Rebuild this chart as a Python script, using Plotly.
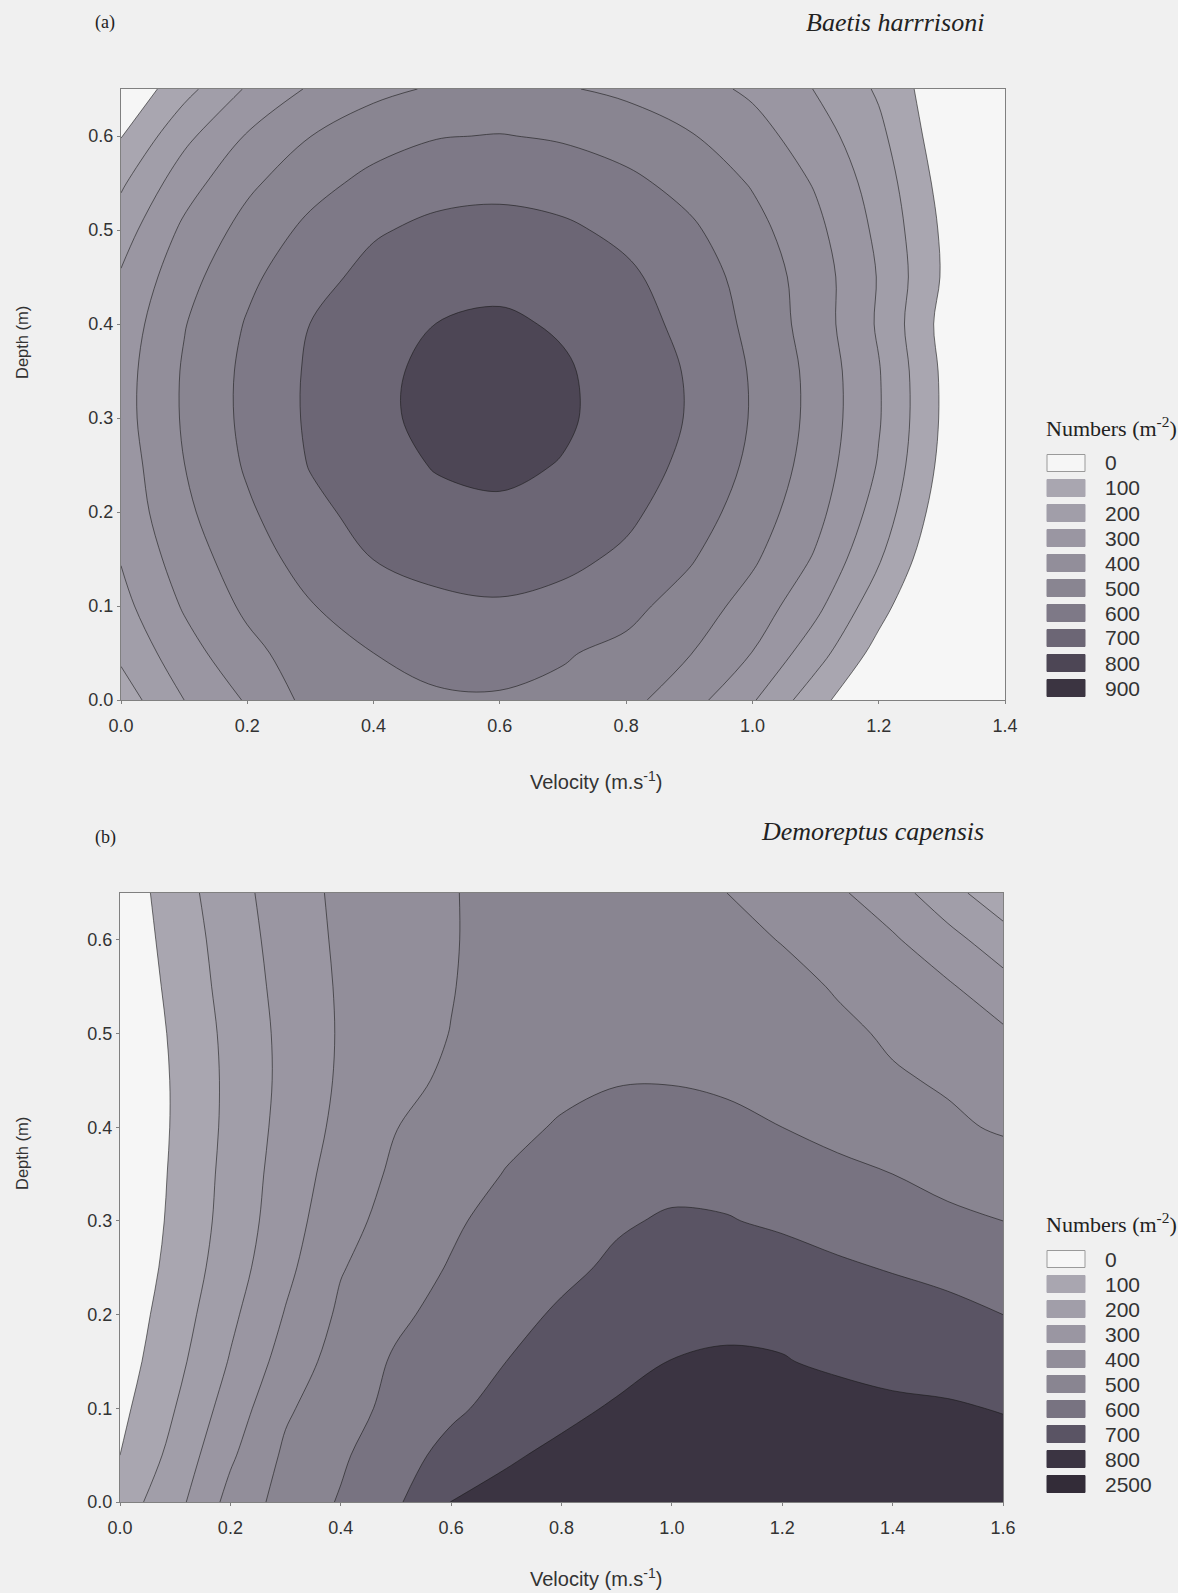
import plotly.graph_objects as go

# ---------------- data ----------------
velocity_a = [0.0, 0.1, 0.2, 0.3, 0.4, 0.5, 0.6, 0.7, 0.8, 0.9, 1.0, 1.1, 1.2, 1.3, 1.4]
depth_a = [0.0, 0.05, 0.10, 0.15, 0.20, 0.25, 0.30, 0.35, 0.40, 0.45, 0.50, 0.55, 0.60, 0.65]
numbers_a = [
    [50, 200, 310, 430, 475, 492, 494, 478, 430, 340, 210, 40, -121, -284, -455],
    [120, 260, 370, 455, 500, 520, 523, 508, 476, 405, 298, 143, -38, -210, -388],
    [170, 310, 420, 495, 550, 580, 591, 571, 528, 458, 359, 226, 40, -146, -330],
    [205, 350, 455, 538, 601, 630, 638, 623, 583, 510, 415, 289, 110, -92, -283],
    [235, 380, 485, 576, 634, 671, 682, 662, 620, 550, 453, 331, 159, -52, -247],
    [248, 399, 512, 605, 660, 707, 723, 695, 644, 579, 480, 357, 193, -24, -223],
    [262, 411, 524, 614, 674, 731, 763, 715, 656, 594, 493, 370, 208, -11, -211],
    [260, 410, 523, 613, 673, 727, 755, 712, 655, 592, 491, 369, 206, -13, -212],
    [243, 395, 508, 601, 656, 701, 716, 689, 640, 574, 476, 353, 188, -28, -226],
    [210, 364, 478, 568, 628, 663, 673, 655, 618, 552, 462, 350, 194, -6, -205],
    [156, 320, 435, 524, 590, 622, 629, 616, 578, 517, 434, 326, 178, -12, -207],
    [85, 257, 380, 466, 529, 566, 576, 559, 523, 468, 392, 291, 156, -31, -213],
    [-4, 174, 308, 399, 458, 495, 504, 489, 457, 408, 339, 247, 124, -54, -224],
    [-91, 67, 211, 312, 375, 411, 420, 408, 380, 338, 283, 196, 87, -68, -227],
]

velocity_b = [0.0, 0.1, 0.2, 0.3, 0.4, 0.5, 0.6, 0.7, 0.8, 0.9, 1.0, 1.1, 1.2, 1.3, 1.4, 1.5, 1.6]
depth_b = [0.0, 0.05, 0.10, 0.15, 0.20, 0.25, 0.30, 0.35, 0.40, 0.45, 0.50, 0.55, 0.60, 0.65]
numbers_b = [
    [50, 167, 331, 438, 508, 585, 702, 730, 750, 765, 775, 780, 780, 775, 765, 755, 748],
    [0, 131, 285, 417, 486, 562, 629, 688, 720, 737, 750, 757, 757, 752, 745, 740, 735],
    [-25, 100, 243, 386, 462, 526, 583, 632, 677, 710, 725, 732, 730, 722, 715, 710, 695],
    [-47, 71, 207, 340, 443, 511, 555, 600, 638, 670, 702, 708, 703, 690, 675, 662, 648],
    [-61, 50, 179, 306, 417, 483, 530, 572, 612, 645, 670, 685, 685, 670, 650, 625, 600],
    [-78, 33, 153, 276, 394, 454, 507, 550, 580, 615, 645, 650, 640, 615, 593, 575, 560],
    [-89, 22, 138, 256, 367, 435, 485, 535, 570, 590, 610, 605, 585, 560, 540, 520, 500],
    [-100, 17, 131, 245, 343, 417, 461, 504, 540, 565, 575, 570, 550, 525, 500, 472, 442],
    [-100, 11, 124, 233, 324, 398, 440, 478, 508, 525, 525, 515, 500, 470, 440, 415, 390],
    [-100, 11, 122, 225, 313, 375, 415, 455, 480, 496, 497, 490, 465, 435, 410, 390, 352],
    [-94, 17, 126, 226, 309, 362, 402, 448, 480, 495, 495, 475, 450, 420, 387, 350, 315],
    [-83, 28, 137, 233, 311, 358, 396, 440, 475, 490, 485, 465, 430, 392, 352, 312, 240],
    [-72, 39, 147, 242, 316, 355, 393, 438, 475, 482, 465, 430, 396, 354, 312, 236, 140],
    [-65, 53, 160, 250, 321, 360, 393, 440, 475, 475, 450, 400, 358, 315, 244, 134, 40],
]

legend_labels_a = ["0", "100", "200", "300", "400", "500", "600", "700", "800", "900"]
legend_labels_b = ["0", "100", "200", "300", "400", "500", "600", "700", "800", "2500"]
colors_a = ["#f6f6f6", "#a9a6b0", "#a19ea9", "#9a96a2", "#928e9a", "#898591", "#7e7987",
            "#6c6675", "#4d4655", "#3b3441"]
colors_b = ["#f6f6f6", "#a9a6b0", "#a19ea9", "#9a96a2", "#928e9a", "#898591", "#787381",
            "#5a5464", "#3b3442", "#332c38"]

W, H = 1178, 1593
BG = "#f0f0f0"


def px(x):
    return x / W


def py(y):
    return 1 - y / H


def scale(colors):
    n = len(colors) - 1
    return [[i / n, c] for i, c in enumerate(colors)]


fig = go.Figure()
for vel, dep, z, cols, xa, ya in [
    (velocity_a, depth_a, numbers_a, colors_a, "x", "y"),
    (velocity_b, depth_b, numbers_b, colors_b, "x2", "y2"),
]:
    fig.add_trace(go.Contour(
        x=vel, y=dep, z=z, xaxis=xa, yaxis=ya,
        autocontour=False,
        contours=dict(start=0, end=800, size=100, coloring="fill", showlines=True),
        colorscale=scale(cols), showscale=False,
        line=dict(color="rgba(25,25,25,0.85)", width=0.7, smoothing=1.0),
        hoverinfo="skip",
    ))

sans = "Liberation Sans, Arial"
serif = "Liberation Serif, Times New Roman"
tickfont = dict(family=sans, size=18, color="#333")
titlefont = dict(family=sans, size=20, color="#333")
axis_common = dict(showgrid=False, zeroline=False, showline=True, linecolor="#808080",
                   linewidth=1, mirror=True, ticks="outside", ticklen=3, tickcolor="#808080",
                   tickfont=tickfont, tickformat=".1f", automargin=False)

fig.update_layout(
    template="none",
    width=W, height=H, autosize=False,
    margin=dict(l=0, r=0, t=0, b=0, pad=0),
    paper_bgcolor=BG, plot_bgcolor=BG,
    showlegend=False,
    xaxis=dict(domain=[px(121), px(1005)], range=[0, 1.4], dtick=0.2, anchor="y",
               ticklabelstandoff=6, **axis_common),
    yaxis=dict(domain=[py(700), py(89)], range=[0, 0.65], dtick=0.1, anchor="x",
               **axis_common),
    xaxis2=dict(domain=[px(120), px(1003)], range=[0, 1.6], dtick=0.2, anchor="y2",
                ticklabelstandoff=6, **axis_common),
    yaxis2=dict(domain=[py(1502), py(893)], range=[0, 0.65], dtick=0.1, anchor="x2",
                **axis_common),
)

annots = [
    dict(text="(a)", x=px(93), y=py(22), xanchor="left", yanchor="middle",
         font=dict(family=serif, size=18, color="#222")),
    dict(text="<i>Baetis harrrisoni</i>", x=px(986), y=py(22), xanchor="right", yanchor="middle",
         font=dict(family=serif, size=26, color="#222")),
    dict(text="(b)", x=px(93), y=py(837), xanchor="left", yanchor="middle",
         font=dict(family=serif, size=18, color="#222")),
    dict(text="<i>Demoreptus capensis</i>", x=px(986), y=py(831), xanchor="right", yanchor="middle",
         font=dict(family=serif, size=26, color="#222")),
    dict(text="Velocity (m.s<sup>-1</sup>)", x=px(596), y=py(780), xanchor="center", yanchor="middle",
         font=titlefont),
    dict(text="Velocity (m.s<sup>-1</sup>)", x=px(596), y=py(1577), xanchor="center", yanchor="middle",
         font=titlefont),
    dict(text="Depth (m)", x=px(22), y=py(343), xanchor="center", yanchor="middle",
         textangle=-90, font=dict(family=sans, size=16.5, color="#333")),
    dict(text="Depth (m)", x=px(22), y=py(1154), xanchor="center", yanchor="middle",
         textangle=-90, font=dict(family=sans, size=16.5, color="#333")),
]
shapes = []
for labels, cols, top in [(legend_labels_a, colors_a, 427), (legend_labels_b, colors_b, 1223)]:
    annots.append(dict(text="Numbers (m<sup>-2</sup>)", x=px(1111), y=py(top), xanchor="center",
                       yanchor="middle", font=dict(family=serif, size=22, color="#222")))
    for i, (lab, col) in enumerate(zip(labels, cols)):
        cy = top + 36 + 25 * i
        shapes.append(dict(type="rect", xref="paper", yref="paper",
                           x0=px(1047), x1=px(1085), y0=py(cy - 8.5), y1=py(cy + 8.5),
                           fillcolor=col,
                           line=dict(color="#9a9a9a" if i == 0 else col, width=1)))
        annots.append(dict(text=lab, x=px(1103), y=py(cy), xanchor="left", yanchor="middle",
                           font=dict(family=sans, size=21, color="#333")))
for a in annots:
    a.setdefault("xref", "paper")
    a.setdefault("yref", "paper")
    a["showarrow"] = False
fig.update_layout(annotations=annots, shapes=shapes)

fig.write_html("out.html",
               config={"displayModeBar": False, "responsive": False},
               post_script="document.body.style.margin='0';"
                           "document.body.style.overflow='hidden';")
